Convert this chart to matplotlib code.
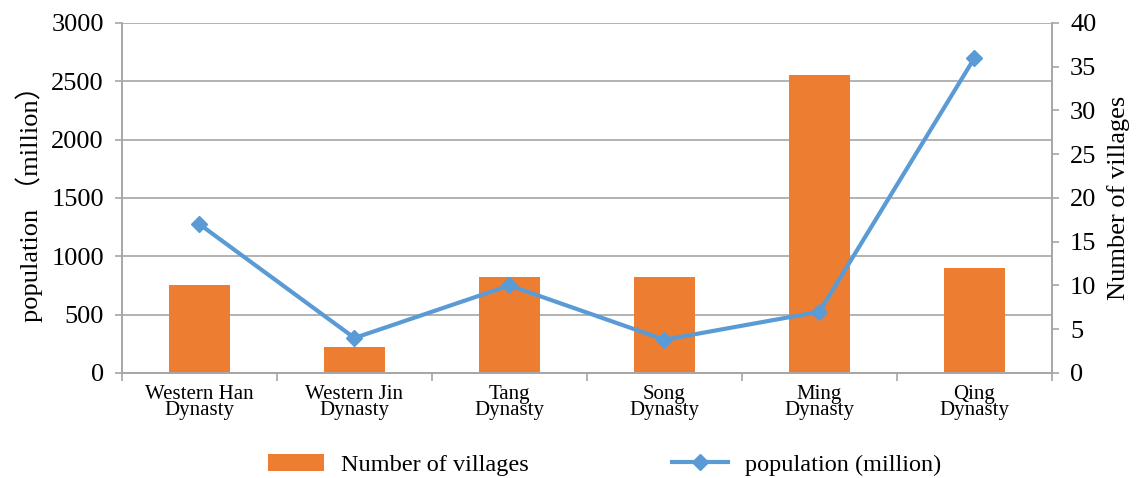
import matplotlib
matplotlib.use('Agg')
import matplotlib.pyplot as plt
import numpy as np

dynasties = ['Western Han\nDynasty', 'Western Jin\nDynasty', 'Tang\nDynasty',
             'Song\nDynasty', 'Ming\nDynasty', 'Qing\nDynasty']
villages_bar = [750, 220, 825, 825, 2550, 900]
population = [17, 4, 10, 3.8, 7, 36]

plt.rcParams['font.family'] = ['Liberation Serif', 'Noto Sans CJK SC', 'DejaVu Sans']
grey = '#a6a6a6'

fig = plt.figure(figsize=(11.37, 4.78), dpi=100)
ax = fig.add_axes([0.1073, 0.2197, 0.8179, 0.7322])
x = np.arange(len(dynasties))

ax.bar(x, villages_bar, width=0.39, color='#ed7d31', label='Number of villages', zorder=2)
ax.set_ylim(0, 3000)
ax.set_xlim(-0.5, 5.5)
ax.set_yticks(np.arange(0, 3001, 500))
ax.grid(axis='y', color=grey, linewidth=1.2, zorder=0)
ax.set_axisbelow(True)

ax.set_xticks(x)
ax.set_xticklabels(dynasties, fontsize=15, linespacing=0.78)
ax.set_xticks(np.arange(-0.5, 6, 1), minor=True)
ax.tick_params(axis='x', which='major', length=0, pad=9)
ax.tick_params(axis='x', which='minor', length=6, color=grey, width=1.2)
ax.tick_params(axis='y', length=5, color=grey, width=1.2, labelsize=19, pad=8)
ax.set_ylabel('population （million）', fontsize=19, labelpad=6)

ax.spines['top'].set_visible(False)
for s in ['left', 'bottom', 'right']:
    ax.spines[s].set_color(grey)
    ax.spines[s].set_linewidth(1.2)

ax2 = ax.twinx()
ax2.plot(x, population, color='#5b9bd5', linewidth=3, marker='D', markersize=8,
         label='population (million)')
ax2.set_ylim(0, 40)
ax2.set_yticks(np.arange(0, 41, 5))
ax2.tick_params(axis='y', length=5, color=grey, width=1.2, labelsize=19, pad=8)
ax2.set_ylabel('Number of villages', fontsize=19, labelpad=8)
ax2.spines['top'].set_visible(False)
for s in ['left', 'bottom', 'right']:
    ax2.spines[s].set_color(grey)
    ax2.spines[s].set_linewidth(1.2)

h1, l1 = ax.get_legend_handles_labels()
h2, l2 = ax2.get_legend_handles_labels()
fig.legend(h1 + h2, l1 + l2, loc='center', bbox_to_anchor=(0.532, 0.028), ncol=2,
           frameon=False, fontsize=17.5, handlelength=2.3, handletextpad=0.7,
           columnspacing=5.9)

fig.savefig('out.png', dpi=100)
